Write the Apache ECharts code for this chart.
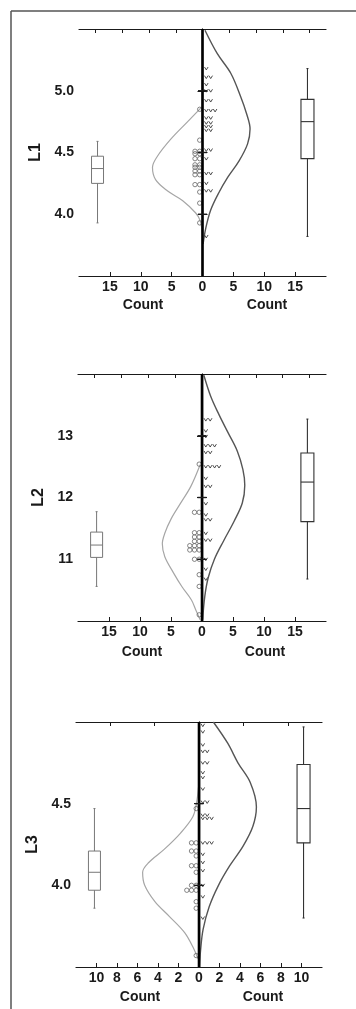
<!DOCTYPE html>
<html>
<head>
<meta charset="utf-8">
<script src="https://cdn.jsdelivr.net/npm/echarts@6/dist/echarts.min.js"></script>
<style>
  html, body { margin: 0; padding: 0; background: #fff; }
  #c { width: 356px; height: 1009px; }
</style>
</head>
<body>
<div id="c"></div>
<script>
// ---- L1 ----
const l1YTicks = [4.0, 4.5, 5.0];
const l1TopTicks = [-17.33, -13, -8.67, -4.33, 0, 4.33, 8.67, 13, 17.33];
// [value, number of stacked markers]
const l1Circles = [[4.85,1],[4.60,1],[4.51,2],[4.49,2],[4.45,2],[4.40,2],[4.38,2],[4.35,2],[4.32,2],[4.24,2],[4.18,1],[4.09,1],[3.93,1]];
const l1Marks = [[5.18,1],[5.11,2],[5.05,1],[5.00,2],[4.92,2],[4.84,3],[4.78,2],[4.74,2],[4.71,2],[4.68,2],[4.52,2],[4.45,1],[4.33,2],[4.25,1],[4.19,2],[3.82,1]];
// [min, Q1, median, Q3, max]
const l1BoxLeft = [3.93, 4.25, 4.37, 4.47, 4.59];
const l1BoxRight = [3.82, 4.45, 4.75, 4.93, 5.18];
// [count, value]
const l1CurveLeft = [[-0.1,4.87],[-2.4,4.75],[-5.1,4.61],[-7.3,4.47],[-8.1,4.38],[-7.6,4.28],[-5.7,4.19],[-3.2,4.11],[-1.1,4.01],[-0.4,3.95],[0,3.84]];
const l1CurveRight = [[0.4,5.49],[2.4,5.30],[4.6,5.14],[6.2,4.95],[7.1,4.82],[7.7,4.69],[7.3,4.57],[5.9,4.43],[4.1,4.30],[2.6,4.17],[1.3,4.03],[0.5,3.88],[0.1,3.76]];

// ---- L2 ----
const l2YTicks = [11, 12, 13];
const l2TopTicks = [-17.33, -13, -8.67, -4.33, 0, 4.33, 8.67, 13, 17.33];
const l2Circles = [[12.54,1],[11.76,2],[11.43,2],[11.36,2],[11.29,2],[11.22,3],[11.15,3],[11.00,2],[10.75,1],[10.56,1],[10.10,1]];
const l2Marks = [[13.26,2],[13.08,1],[12.99,1],[12.84,3],[12.73,2],[12.50,4],[12.31,1],[12.18,2],[11.90,1],[11.72,1],[11.64,2],[11.42,1],[11.31,2],[11.00,1],[10.84,1],[10.68,1]];
const l2BoxLeft = [10.56, 11.03, 11.23, 11.44, 11.77];
const l2BoxRight = [10.68, 11.61, 12.25, 12.72, 13.27];
const l2CurveLeft = [[-0.3,12.53],[-1.8,12.18],[-3.5,11.90],[-5.0,11.65],[-6.0,11.42],[-6.4,11.25],[-6.0,11.04],[-4.6,10.78],[-3.2,10.55],[-1.7,10.34],[-1.0,10.18],[-0.3,10.02]];
const l2CurveRight = [[0.3,13.98],[1.4,13.64],[2.7,13.35],[4.2,13.05],[5.7,12.75],[6.6,12.45],[6.9,12.20],[6.5,11.91],[5.2,11.62],[3.5,11.30],[2.0,11.00],[1.0,10.70],[0.45,10.40],[0.1,10.02]];

// ---- L3 ----
const l3YTicks = [4.0, 4.5];
const l3TopTicks = [-8.67, -4.33, 0, 4.33, 8.67];
const l3Circles = [[4.47,1],[4.26,2],[4.21,2],[4.18,1],[4.12,2],[4.08,1],[4.00,2],[3.97,3],[3.90,1],[3.86,1],[3.57,1]];
const l3Marks = [[4.98,1],[4.94,1],[4.86,1],[4.82,2],[4.75,2],[4.69,1],[4.66,1],[4.59,1],[4.51,2],[4.43,2],[4.41,3],[4.26,3],[4.19,1],[4.14,1],[4.09,1],[4.00,1],[3.93,1],[3.80,1]];
const l3BoxLeft = [3.86, 3.97, 4.08, 4.21, 4.47];
const l3BoxRight = [3.80, 4.26, 4.47, 4.74, 4.97];
const l3CurveLeft = [[-0.05,4.60],[-0.25,4.50],[-0.6,4.42],[-1.8,4.32],[-3.4,4.22],[-4.9,4.14],[-5.5,4.08],[-5.3,4.00],[-4.3,3.90],[-2.9,3.81],[-1.4,3.71],[-0.5,3.61],[-0.1,3.55]];
const l3CurveRight = [[1.4,5.00],[2.8,4.87],[3.8,4.75],[5.0,4.63],[5.6,4.48],[5.25,4.36],[4.3,4.24],[3.0,4.12],[1.9,4.00],[1.0,3.87],[0.4,3.73],[0.15,3.60],[0.05,3.50]];

const FONT = '"Liberation Sans", Arial, Helvetica, sans-serif';
const INK = '#1a1a1a';

const panels = [
  { name: 'L1', yMin: 3.5, yMax: 5.5, yStep: 0.5, digits: 1, xMax: 20, xStep: 5, boxPos: 17,
    yTicks: l1YTicks, topTicks: l1TopTicks, circles: l1Circles, marks: l1Marks,
    boxL: l1BoxLeft, boxR: l1BoxRight, curveL: l1CurveLeft, curveR: l1CurveRight,
    grid: { left: 79, top: 29, width: 247, height: 247 }, nameGap: 32, countY: 305, countX: [143, 267] },
  { name: 'L2', yMin: 10, yMax: 14, yStep: 1, digits: 0, xMax: 20, xStep: 5, boxPos: 17,
    yTicks: l2YTicks, topTicks: l2TopTicks, circles: l2Circles, marks: l2Marks,
    boxL: l2BoxLeft, boxR: l2BoxRight, curveL: l2CurveLeft, curveR: l2CurveRight,
    grid: { left: 78, top: 374, width: 248, height: 247 }, nameGap: 25, countY: 652, countX: [142, 265] },
  { name: 'L3', yMin: 3.5, yMax: 5.0, yStep: 0.5, digits: 1, xMax: 12, xStep: 2, boxPos: 10.2,
    yTicks: l3YTicks, topTicks: l3TopTicks, circles: l3Circles, marks: l3Marks,
    boxL: l3BoxLeft, boxR: l3BoxRight, curveL: l3CurveLeft, curveR: l3CurveRight,
    grid: { left: 76, top: 722, width: 246, height: 245 }, nameGap: 31, countY: 997, countX: [140, 263] }
];

// stacked markers beside the centre line: circles to the left, "v" marks to the right
function stackItem(side, kind) {
  return function (params, api) {
    const v = api.value(0), n = api.value(1);
    const p = api.coord([0, v]);
    const children = [];
    for (let i = 0; i < n; i++) {
      if (kind === 'o') {
        const x = p[0] - (2.8 + i * 4.7);
        children.push({ type: 'circle', shape: { cx: x, cy: p[1], r: 2.2 },
          style: { fill: 'transparent', stroke: '#666', lineWidth: 0.8 } });
      } else {
        const x = p[0] + (3.8 + i * 4.4);
        children.push({ type: 'polyline',
          shape: { points: [[x - 1.8, p[1] - 1.5], [x, p[1] + 1.4], [x + 1.8, p[1] - 1.5]] },
          style: { fill: 'transparent', stroke: '#3a3a3a', lineWidth: 0.9 } });
      }
    }
    return { type: 'group', children };
  };
}

function boxItem(color, w, lw) {
  return function (params, api) {
    const x = api.value(0);
    const lo = api.coord([x, api.value(1)]);
    const q1 = api.coord([x, api.value(2)]);
    const md = api.coord([x, api.value(3)]);
    const q3 = api.coord([x, api.value(4)]);
    const hi = api.coord([x, api.value(5)]);
    const cx = lo[0], h = w / 2;
    const st = { stroke: color, lineWidth: lw, fill: 'transparent' };
    return { type: 'group', children: [
      { type: 'line', shape: { x1: cx, y1: hi[1], x2: cx, y2: q3[1] }, style: st },
      { type: 'line', shape: { x1: cx, y1: q1[1], x2: cx, y2: lo[1] }, style: st },
      { type: 'line', shape: { x1: cx - 1, y1: hi[1], x2: cx + 1, y2: hi[1] }, style: st },
      { type: 'line', shape: { x1: cx - 1, y1: lo[1], x2: cx + 1, y2: lo[1] }, style: st },
      { type: 'rect', shape: { x: cx - h, y: q3[1], width: w, height: q1[1] - q3[1] }, style: st },
      { type: 'line', shape: { x1: cx - h, y1: md[1], x2: cx + h, y2: md[1] }, style: st }
    ] };
  };
}

function spineTickItem(params, api) {
  const p = api.coord([0, api.value(0)]);
  return { type: 'line', shape: { x1: p[0] - 4.5, y1: p[1], x2: p[0] + 4.5, y2: p[1] },
    style: { stroke: INK, lineWidth: 1.4 } };
}

const grid = [], xAxis = [], yAxis = [], series = [], graphic = [];
const axisLine = { show: true, lineStyle: { color: INK, width: 1.2 } };
const labelStyle = { color: INK, fontFamily: FONT, fontWeight: 'bold', fontSize: 14 };

panels.forEach((pn, k) => {
  grid.push(Object.assign({ containLabel: false }, pn.grid));
  const xb = 2 * k, yl = 2 * k;
  xAxis.push({
    type: 'value', gridIndex: k, position: 'bottom', min: -pn.xMax, max: pn.xMax, interval: pn.xStep,
    axisLine, splitLine: { show: false },
    axisTick: { show: true, inside: true, length: 4, lineStyle: { color: INK, width: 1 } },
    axisLabel: Object.assign({ margin: 4, showMinLabel: false, showMaxLabel: false,
      formatter: v => String(Math.abs(v)) }, labelStyle)
  });
  xAxis.push({
    type: 'value', gridIndex: k, position: 'top', min: -pn.xMax, max: pn.xMax,
    axisLine, splitLine: { show: false }, axisLabel: { show: false },
    axisTick: { show: true, inside: true, length: 4, customValues: pn.topTicks, lineStyle: { color: INK, width: 1 } }
  });
  yAxis.push({
    type: 'value', gridIndex: k, position: 'left', min: pn.yMin, max: pn.yMax, interval: pn.yStep,
    name: pn.name, nameLocation: 'middle', nameGap: pn.nameGap,
    nameTextStyle: { color: INK, fontFamily: FONT, fontWeight: 'bold', fontSize: 16 },
    axisLine, splitLine: { show: false },
    axisTick: { show: true, inside: true, length: 5, lineStyle: { color: INK, width: 1 } },
    axisLabel: Object.assign({ margin: 5, showMinLabel: false, showMaxLabel: false,
      formatter: v => v.toFixed(pn.digits) }, labelStyle)
  });
  yAxis.push({
    type: 'value', gridIndex: k, position: 'right', min: pn.yMin, max: pn.yMax, interval: pn.yStep,
    axisLine, splitLine: { show: false }, axisLabel: { show: false },
    axisTick: { show: true, inside: true, length: 5, lineStyle: { color: INK, width: 1 } }
  });

  series.push({ type: 'line', xAxisIndex: xb, yAxisIndex: yl, data: pn.curveL, smooth: 0.35,
    showSymbol: false, lineStyle: { color: '#a6a6a6', width: 1.2 }, silent: true, z: 2 });
  series.push({ type: 'line', xAxisIndex: xb, yAxisIndex: yl, data: pn.curveR, smooth: 0.35,
    showSymbol: false, lineStyle: { color: '#555', width: 1.4 }, silent: true, z: 2 });
  series.push({ type: 'line', xAxisIndex: xb, yAxisIndex: yl, data: [[0, pn.yMin], [0, pn.yMax]],
    showSymbol: false, lineStyle: { color: '#000', width: 2.6 }, silent: true, z: 4 });
  series.push({ type: 'custom', xAxisIndex: xb, yAxisIndex: yl, renderItem: spineTickItem,
    data: pn.yTicks.map(v => [v, 0]), encode: { x: 1, y: 0 }, silent: true, z: 5 });
  series.push({ type: 'custom', xAxisIndex: xb, yAxisIndex: yl, renderItem: stackItem(-1, 'o'),
    data: pn.circles, encode: { x: 1, y: 0 }, silent: true, z: 3 });
  series.push({ type: 'custom', xAxisIndex: xb, yAxisIndex: yl, renderItem: stackItem(1, 'v'),
    data: pn.marks, encode: { x: 1, y: 0 }, silent: true, z: 3 });
  series.push({ type: 'custom', xAxisIndex: xb, yAxisIndex: yl, renderItem: boxItem('#777', 12, 1),
    data: [[-pn.boxPos].concat(pn.boxL)], encode: { x: 0, y: [1, 2, 3, 4, 5] }, silent: true, z: 3 });
  series.push({ type: 'custom', xAxisIndex: xb, yAxisIndex: yl, renderItem: boxItem('#333', 13, 1.1),
    data: [[pn.boxPos].concat(pn.boxR)], encode: { x: 0, y: [1, 2, 3, 4, 5] }, silent: true, z: 3 });

  pn.countX.forEach(cx => graphic.push({
    type: 'text', x: cx, y: pn.countY,
    style: { text: 'Count', fill: INK, font: 'bold 14px ' + FONT, textAlign: 'center', textVerticalAlign: 'middle' }
  }));
});

// outer frame of the figure
graphic.push({ type: 'line', shape: { x1: 11, y1: 11, x2: 356, y2: 11 }, style: { stroke: '#555', lineWidth: 1.5 } });
graphic.push({ type: 'line', shape: { x1: 11, y1: 11, x2: 11, y2: 1009 }, style: { stroke: '#555', lineWidth: 1.5 } });

const chart = echarts.init(document.getElementById('c'), null, { renderer: 'canvas' });
chart.setOption({
  animation: false,
  backgroundColor: '#fff',
  grid, xAxis, yAxis, series, graphic
});
</script>
</body>
</html>
